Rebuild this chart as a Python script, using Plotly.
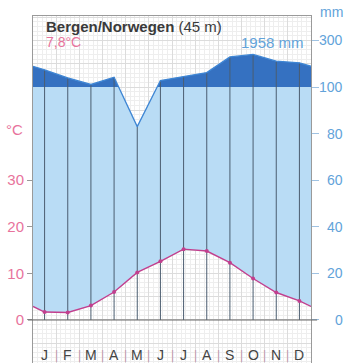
import plotly.graph_objects as go

# ---- data ----
months = ["J", "F", "M", "A", "M", "J", "J", "A", "S", "O", "N", "D"]
temp_c = [1.7, 1.6, 3.1, 6.0, 10.2, 12.6, 15.2, 14.8, 12.3, 8.9, 5.9, 4.1]
precip_mm = [174, 139, 111, 142, 83, 128, 145, 162, 229, 240, 211, 204]
temp_ticks = [0, 10, 20, 30]
precip_ticks = [0, 20, 40, 60, 80, 100, 300]
station = "Bergen/Norwegen"
elevation = "(45 m)"
annual_temp = "7,8°C"
annual_precip = "1958 mm"

PINK = "#e8739c"
TLINE = "#c23f8e"
BLUE_TXT = "#62a3da"
LIGHT = "#b9dcf5"
DARK = "#3571c1"
VLINE = "#4b5d70"
GRID_MAJ = "#dcdcdc"
GRID_MIN = "#eeeeee"
FONT = "Liberation Sans, Arial, sans-serif"


def p_scale(p):
    # Walter-Lieth scale: 20 mm = 10 °C up to 100 mm, then compressed 1:10
    return p / 2 if p <= 100 else 50 + (p - 100) / 20


def clip(xs, ys, level, fn):
    ox, oy = [], []
    for i in range(len(xs)):
        if i > 0:
            y0, y1 = ys[i - 1], ys[i]
            if (y0 - level) * (y1 - level) < 0:
                f = (level - y0) / (y1 - y0)
                ox.append(xs[i - 1] + f * (xs[i] - xs[i - 1]))
                oy.append(level)
        ox.append(xs[i])
        oy.append(fn(ys[i], level))
    return ox, oy


n = len(months)
xs = [-0.5] + list(range(n)) + [n - 0.5]
t_edge = (temp_c[-1] + temp_c[0]) / 2
p_edge = (precip_mm[-1] + precip_mm[0]) / 2
t_curve = [t_edge] + temp_c + [t_edge]
p_curve = [p_scale(v) for v in [p_edge] + precip_mm + [p_edge]]

fig = go.Figure()

# light blue humid fill (temperature curve -> min(precip, 100 mm))
tx, ty = clip(xs, p_curve, 50, min)
fig.add_trace(go.Scatter(x=tx + xs[::-1], y=ty + t_curve[::-1], fill="toself",
                         fillcolor=LIGHT, mode="lines", line=dict(width=0, color=LIGHT),
                         hoverinfo="skip"))
# dark blue fill above 100 mm
dx, dy = clip(xs, p_curve, 50, max)
fig.add_trace(go.Scatter(x=dx + [xs[-1], xs[0]], y=dy + [50, 50], fill="toself",
                         fillcolor=DARK, mode="lines", line=dict(width=0, color=DARK),
                         hoverinfo="skip"))

# vertical month lines
vx, vy = [], []
for i in range(n):
    vx += [i, i, None]
    vy += [0, p_scale(precip_mm[i]), None]
fig.add_trace(go.Scatter(x=vx, y=vy, mode="lines", line=dict(color=VLINE, width=1),
                         hoverinfo="skip"))

# precipitation line
fig.add_trace(go.Scatter(x=xs, y=p_curve, mode="lines", line=dict(color="#3f86d4", width=1.3),
                         hoverinfo="skip"))
# temperature line
fig.add_trace(go.Scatter(x=xs, y=t_curve, mode="lines", line=dict(color=TLINE, width=1.4),
                         hoverinfo="skip"))
fig.add_trace(go.Scatter(x=list(range(n)), y=temp_c, mode="markers",
                         marker=dict(color=TLINE, size=4), hoverinfo="skip"))

# dummy traces so overlay axes are drawn
fig.add_trace(go.Scatter(x=[0], y=[0], yaxis="y2", mode="markers",
                         marker=dict(opacity=0), hoverinfo="skip"))
fig.add_trace(go.Scatter(x=[0], y=[0], yaxis="y3", mode="markers",
                         marker=dict(opacity=0), hoverinfo="skip"))

YR = [-9.23, 65.24]

fig.update_layout(
    width=347, height=363,
    margin=dict(l=33, r=36, t=16, b=0, autoexpand=False),
    paper_bgcolor="white", plot_bgcolor="white",
    showlegend=False,
    font=dict(family=FONT),
    xaxis=dict(range=[-0.5, n - 0.5], showticklabels=False, ticks="", automargin=False,
               showgrid=True, tick0=-0.5, dtick=1, gridcolor=GRID_MAJ, gridwidth=1,
               minor=dict(tick0=-0.5, dtick=0.2, showgrid=True, gridcolor=GRID_MIN, gridwidth=1),
               zeroline=False, showline=True, mirror=True, linecolor="#9a9a9a", linewidth=1),
    yaxis=dict(range=YR, showticklabels=False, ticks="", automargin=False,
               showgrid=True, tick0=0, dtick=5, gridcolor=GRID_MAJ, gridwidth=1,
               minor=dict(tick0=0, dtick=1, showgrid=True, gridcolor=GRID_MIN, gridwidth=1),
               zeroline=False, showline=True, mirror=True, linecolor="#9a9a9a", linewidth=1),
    yaxis2=dict(range=YR, overlaying="y", side="left", tickmode="array", automargin=False,
                tickvals=temp_ticks, ticktext=[str(v) for v in temp_ticks],
                ticks="outside", ticklen=5, tickcolor="#999999", tickwidth=1,
                tickfont=dict(color=PINK, size=15, family=FONT),
                showgrid=False, zeroline=False, showline=False),
    yaxis3=dict(range=YR, overlaying="y", side="right", tickmode="array", automargin=False,
                tickvals=[p_scale(v) for v in precip_ticks],
                ticks="outside", ticklen=7, tickcolor="#9fc2e2", tickwidth=1,
                showticklabels=False, showgrid=False, zeroline=False, showline=False),
)

# zero line
fig.add_shape(type="line", xref="paper", yref="y", x0=-0.018, x1=1.022, y0=0, y1=0,
              line=dict(color="#666666", width=1))

ann = []
# right-hand precipitation labels
for v in precip_ticks:
    ann.append(dict(x=1.122, xref="paper", y=p_scale(v), yref="y", text=str(v),
                    xanchor="right", yanchor="middle", showarrow=False,
                    font=dict(color=BLUE_TXT, size=14, family=FONT)))
ann.append(dict(x=1.122, xref="paper", y=1.012, yref="paper", text="mm",
                xanchor="right", yanchor="middle", showarrow=False,
                font=dict(color=BLUE_TXT, size=14, family=FONT)))
ann.append(dict(x=-0.029, xref="paper", y=40.8, yref="y", text="°C",
                xanchor="right", yanchor="middle", showarrow=False,
                font=dict(color=PINK, size=15, family=FONT)))
# titles
ann.append(dict(x=0.04, xref="paper", y=0.970, yref="paper",
                text="<b>" + station + "</b> " + elevation,
                xanchor="left", yanchor="middle", showarrow=False,
                font=dict(color="#3a3a3a", size=15, family=FONT)))
ann.append(dict(x=0.04, xref="paper", y=0.926, yref="paper", text=annual_temp,
                xanchor="left", yanchor="middle", showarrow=False,
                font=dict(color=PINK, size=14, family=FONT)))
ann.append(dict(x=0.982, xref="paper", y=0.924, yref="paper", text=annual_precip,
                xanchor="right", yanchor="middle", showarrow=False,
                font=dict(color=BLUE_TXT, size=15, family=FONT)))
# month labels and separators
for i, m in enumerate(months):
    ann.append(dict(x=i, xref="x", y=-7.5, yref="y", text=m, showarrow=False,
                    xanchor="center", yanchor="middle",
                    font=dict(color="#444444", size=14, family=FONT)))
    if i < n - 1:
        ann.append(dict(x=i + 0.5, xref="x", y=-7.5, yref="y", text="|", showarrow=False,
                        xanchor="center", yanchor="middle",
                        font=dict(color="#c79bb0", size=12, family=FONT)))
fig.update_layout(annotations=ann)

fig.write_html("out.html", config={"displayModeBar": False},
               post_script="document.body.style.margin='0px';document.body.style.overflow='hidden';")
